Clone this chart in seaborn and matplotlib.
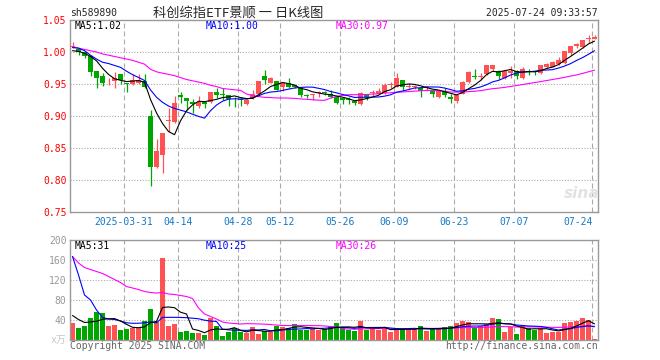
import matplotlib
matplotlib.use("Agg")
import matplotlib.pyplot as plt
import matplotlib.transforms as mtransforms
import numpy as np
import pandas as pd
import seaborn as sns

code = "sh589890"
title = "科创综指ETF景顺 一 日K线图"
stamp = "2025-07-24 09:33:57"

# daily bars, 88 trading days up to 2025-07-24
open_ = [1.008, 1.004, 1.000, 0.993, 0.970, 0.962, 0.951, 0.954, 0.965, 0.951,
         0.950, 0.951, 0.954, 0.900, 0.821, 0.839, 0.892, 0.891, 0.933, 0.928,
         0.922, 0.915, 0.922, 0.922, 0.938, 0.934, 0.933, 0.927, 0.926, 0.919,
         0.928, 0.934, 0.962, 0.952, 0.954, 0.946, 0.952, 0.948, 0.943, 0.932,
         0.933, 0.936, 0.937, 0.935, 0.929, 0.928, 0.926, 0.924, 0.918, 0.934,
         0.936, 0.935, 0.936, 0.949, 0.946, 0.956, 0.945, 0.945, 0.944, 0.944,
         0.939, 0.930, 0.938, 0.929, 0.924, 0.935, 0.953, 0.962, 0.961, 0.965,
         0.973, 0.970, 0.959, 0.967, 0.971, 0.960, 0.971, 0.970, 0.967, 0.976,
         0.977, 0.981, 0.983, 0.998, 1.009, 1.008, 1.020, 1.020]
close = [1.010, 1.000, 0.993, 0.968, 0.960, 0.952, 0.952, 0.959, 0.956, 0.950,
         0.956, 0.956, 0.946, 0.821, 0.845, 0.873, 0.894, 0.921, 0.929, 0.924,
         0.919, 0.922, 0.918, 0.938, 0.933, 0.933, 0.927, 0.926, 0.925, 0.925,
         0.935, 0.955, 0.956, 0.959, 0.941, 0.951, 0.946, 0.945, 0.933, 0.931,
         0.934, 0.937, 0.936, 0.929, 0.920, 0.925, 0.925, 0.920, 0.936, 0.930,
         0.937, 0.939, 0.949, 0.950, 0.959, 0.946, 0.946, 0.946, 0.939, 0.945,
         0.934, 0.939, 0.933, 0.926, 0.933, 0.953, 0.968, 0.961, 0.962, 0.979,
         0.979, 0.963, 0.971, 0.971, 0.963, 0.974, 0.968, 0.969, 0.979, 0.981,
         0.985, 0.988, 1.002, 1.009, 1.013, 1.018, 1.021, 1.024]
high = [1.016, 1.006, 1.002, 0.995, 0.971, 0.967, 0.960, 0.968, 0.966, 0.952,
        0.965, 0.966, 0.966, 0.910, 0.864, 0.873, 0.913, 0.931, 0.938, 0.928,
        0.926, 0.931, 0.922, 0.938, 0.943, 0.943, 0.933, 0.930, 0.930, 0.926,
        0.940, 0.955, 0.972, 0.961, 0.955, 0.951, 0.960, 0.949, 0.943, 0.934,
        0.934, 0.939, 0.939, 0.941, 0.929, 0.930, 0.929, 0.924, 0.938, 0.935,
        0.941, 0.943, 0.951, 0.953, 0.967, 0.957, 0.952, 0.948, 0.945, 0.946,
        0.940, 0.941, 0.944, 0.934, 0.935, 0.954, 0.971, 0.973, 0.967, 0.979,
        0.979, 0.972, 0.972, 0.978, 0.972, 0.976, 0.974, 0.971, 0.979, 0.983,
        0.986, 0.992, 1.002, 1.009, 1.014, 1.018, 1.026, 1.026]
low = [1.006, 0.995, 0.990, 0.962, 0.944, 0.947, 0.948, 0.944, 0.950, 0.937,
       0.949, 0.950, 0.944, 0.791, 0.819, 0.811, 0.875, 0.889, 0.921, 0.910,
       0.905, 0.913, 0.912, 0.920, 0.928, 0.925, 0.915, 0.914, 0.915, 0.917,
       0.927, 0.933, 0.950, 0.951, 0.940, 0.939, 0.943, 0.943, 0.929, 0.928,
       0.925, 0.930, 0.933, 0.928, 0.919, 0.919, 0.919, 0.917, 0.917, 0.925,
       0.932, 0.935, 0.935, 0.943, 0.945, 0.941, 0.942, 0.942, 0.930, 0.939,
       0.930, 0.928, 0.930, 0.921, 0.921, 0.934, 0.952, 0.958, 0.957, 0.964,
       0.970, 0.958, 0.958, 0.959, 0.958, 0.958, 0.964, 0.964, 0.966, 0.975,
       0.976, 0.980, 0.982, 0.996, 1.007, 1.007, 1.014, 1.020]
# volume in 万 shares
volume = [34, 24, 29, 44, 56, 54, 29, 31, 20, 23,
          24, 25, 39, 62, 36, 164, 29, 32, 17, 18,
          14, 14, 10, 44, 29, 9, 16, 25, 17, 14,
          26, 12, 19, 17, 28, 27, 25, 32, 21, 21,
          22, 20, 22, 29, 34, 25, 21, 18, 38, 20,
          24, 20, 24, 16, 22, 23, 23, 23, 28, 18,
          22, 23, 26, 29, 34, 38, 36, 25, 29, 32,
          44, 42, 16, 26, 12, 29, 25, 21, 24, 14,
          16, 16, 34, 36, 38, 44, 41, 2]

date_labels = ["2025-03-31", "04-14", "04-28", "05-12", "05-26",
               "06-09", "06-23", "07-07", "07-24"]
date_index = [9, 18, 28, 35, 45, 54, 64, 74, 87]

price_ticks = [0.75, 0.80, 0.85, 0.90, 0.95, 1.00, 1.05]
vol_ticks = [40, 80, 120, 160, 200]
price_legend = ["MA5:1.02", "MA10:1.00", "MA30:0.97"]
vol_legend = ["MA5:31", "MA10:25", "MA30:26"]

# the first days of each average use bars from before this window,
# so those starting values are read off the chart
ma5_head = [1.002, 1.001, 0.998, 0.993]
ma10_head = [1.007, 1.006, 1.002, 0.995, 0.989, 0.984, 0.982, 0.979, 0.976]
ma30_head = [1.008, 1.006, 1.004, 1.002, 1.000, 0.997, 0.995, 0.993, 0.991, 0.989,
             0.987, 0.984, 0.981, 0.973, 0.969, 0.967, 0.965, 0.963, 0.960, 0.957,
             0.955, 0.953, 0.951, 0.948, 0.946, 0.943, 0.942, 0.941, 0.940]
vma5_head = [49, 41, 35, 36]
vma10_head = [167, 130, 90, 80, 60, 45, 42, 41, 38]
vma30_head = [167, 154, 145, 141, 137, 133, 127, 121, 115, 107,
              104, 101, 97, 95, 94, 95, 92, 91, 89, 87,
              83, 64, 52, 47, 42, 36, 34, 33, 32]

RED = "#ff5252"
GREEN = "#00a600"
GRID = "#aaaaaa"
FRAME = "#999999"


def moving_average(values, n, head):
    ma = pd.Series(values, dtype=float).rolling(n).mean()
    ma.iloc[:len(head)] = head
    return ma.to_numpy()


sns.set_style("white")
plt.rcParams["font.family"] = ["DejaVu Sans Mono"]
cjk = ["Noto Sans CJK SC", "DejaVu Sans"]

W, H = 660, 360
fig = plt.figure(figsize=(W / 100, H / 100), dpi=100)
ax = fig.add_axes([70 / W, 1 - 212 / H, 528 / W, 192 / H])
axv = fig.add_axes([70 / W, 20 / H, 528 / W, 100 / H])

idx = np.arange(len(close))
o = np.array(open_)
c = np.array(close)
up = c >= o
colors = np.where(up, RED, GREEN)

# candles
ax.vlines(idx, low, high, colors=colors, lw=0.9, zorder=2)
ax.bar(idx, np.maximum(np.abs(c - o), 0.0012), bottom=np.minimum(o, c),
       width=0.8, color=colors, linewidth=0, zorder=3)

ma5 = moving_average(close, 5, ma5_head)
ma10 = moving_average(close, 10, ma10_head)
ma30 = moving_average(close, 30, ma30_head)
for ma, col in [(ma30, "#ff00ff"), (ma10, "#0000ff"), (ma5, "black")]:
    sns.lineplot(x=idx, y=ma, ax=ax, color=col, lw=0.8, zorder=4)

# volume
vol_df = pd.DataFrame({"day": idx, "vol": volume,
                       "dir": np.where(up, "up", "down")})
sns.barplot(data=vol_df, x="day", y="vol", hue="dir",
            palette={"up": RED, "down": GREEN}, native_scale=True,
            width=0.83, saturation=1, linewidth=0, legend=False, ax=axv)
vma5 = moving_average(volume, 5, vma5_head)
vma10 = moving_average(volume, 10, vma10_head)
vma30 = moving_average(volume, 30, vma30_head)
for ma, col in [(vma30, "#ff00ff"), (vma10, "#0000ff"), (vma5, "black")]:
    sns.lineplot(x=idx, y=ma, ax=axv, color=col, lw=0.8, zorder=4)

for a in (ax, axv):
    a.set_xlim(-0.42, 87.58)
    a.set_xticks([])
    a.set_xlabel("")
    a.set_ylabel("")
    for d in date_index:
        a.axvline(d - 0.42, color=GRID, lw=0.8, ls=(0, (4.5, 2.7)), zorder=0)
    for s in a.spines.values():
        s.set_color(FRAME)
        s.set_linewidth(1)
    a.tick_params(axis="y", length=0, pad=2.5, labelsize=7)

ax.set_ylim(0.75, 1.05)
ax.set_yticks(price_ticks)
ax.set_yticklabels([f"{v:.2f}" for v in price_ticks], color="red")
for y in price_ticks[1:-1]:
    ax.axhline(y, color=GRID, lw=0.8, ls=(0, (1, 1.5)), zorder=0)

axv.set_ylim(0, 200)
axv.set_yticks(vol_ticks)
axv.set_yticklabels([str(v) for v in vol_ticks], color="#999999")
for y in vol_ticks[:-1]:
    axv.axhline(y, color=GRID, lw=0.8, ls=(0, (1, 1.5)), zorder=0)

# date labels under the price panel
trans = mtransforms.blended_transform_factory(ax.transData, ax.transAxes)
for d, lab in zip(date_index, date_labels):
    if d == date_index[-1]:
        ax.text(d - 0.3, -0.05, lab, transform=trans, ha="right", va="center",
                fontsize=7, color="#1478c8")
    else:
        ax.text(d - 0.42, -0.05, lab, transform=trans, ha="center", va="center",
                fontsize=7, color="#1478c8")

# legends
for a, labels, y in [(ax, price_legend, 0.969), (axv, vol_legend, 0.94)]:
    for lab, x, col in zip(labels, [0.0095, 0.2576, 0.504],
                           ["black", "#0000ff", "#ff00ff"]):
        a.text(x, y, lab, transform=a.transAxes, ha="left", va="center",
               fontsize=7, color=col)

# header and footer
fig.text(70 / W, 1 - 13 / H, code, ha="left", va="center", fontsize=7)
fig.text(238 / W, 1 - 13 / H, title, ha="center", va="center", fontsize=9.5,
         family=cjk)
fig.text(598 / W, 1 - 13 / H, stamp, ha="right", va="center", fontsize=7)
fig.text(66 / W, 1 - 340 / H, "x万", ha="right", va="center", fontsize=7,
         color="#c8c8c8", family=["DejaVu Sans Mono", "Noto Sans CJK SC"])
fig.text(70 / W, 1 - 346 / H, "Copyright 2025 SINA.COM", ha="left",
         va="center", fontsize=7, color="#666666")
fig.text(598 / W, 1 - 346 / H, "http://finance.sina.com.cn", ha="right",
         va="center", fontsize=7, color="#666666")
fig.text(582 / W, 1 - 194 / H, "sina", ha="center", va="center", fontsize=11,
         style="italic", weight="bold", color="#e2e2e2", family="DejaVu Sans")

fig.savefig("out.png", dpi=100)
